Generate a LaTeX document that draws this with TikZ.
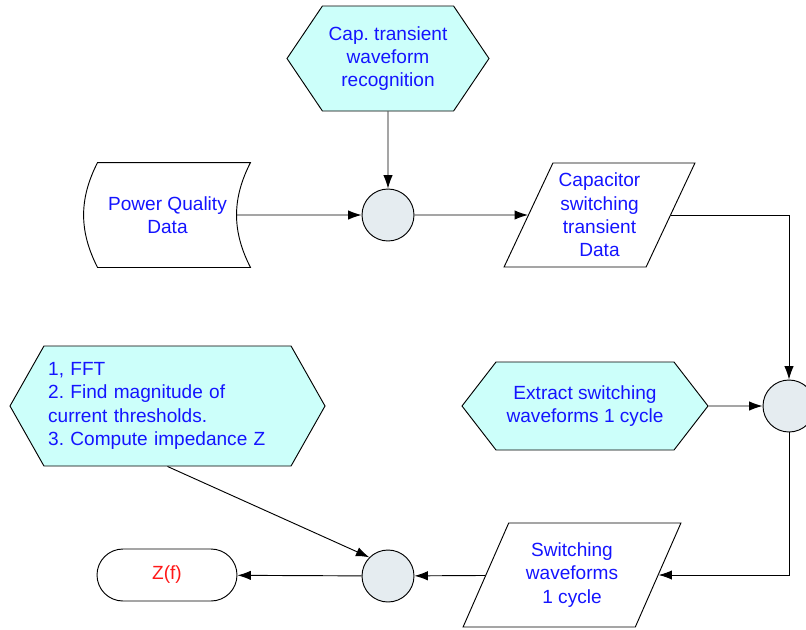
\documentclass[tikz,border=0pt]{standalone}
\usepackage{fontspec}
\setmainfont{Liberation Sans}
\usetikzlibrary{shapes.symbols,shapes.geometric,arrows.meta}
\definecolor{hexcyan}{RGB}{204,255,250}
\definecolor{junctionfill}{RGB}{229,236,240}
\definecolor{txtblue}{RGB}{20,20,255}
\definecolor{txtred}{RGB}{255,25,25}
\frenchspacing
\begin{document}
\begin{tikzpicture}[
	x=0.75pt, y=-0.75pt,
	line width=0.7pt,
	font=\fontsize{14.3}{17.5}\selectfont,
	flow/.style={ -{Latex[length=10pt,width=7pt]} },
	junction/.style={ circle, draw, fill=junctionfill, minimum size=39pt, inner sep=0pt },
	task/.style={ signal, signal to=west and east, draw, fill=hexcyan, text=txtblue, align=center, inner sep=2pt },
	datab/.style={ trapezium, trapezium left angle=63, trapezium right angle=117, trapezium stretches=true, draw, text=txtblue, align=center, inner sep=1pt, minimum height=78pt },
	stored/.style={ rectangle, text=txtblue, align=center, minimum width=123.75pt, minimum height=78pt, inner sep=0pt },
	terminal/.style={ rectangle, rounded corners=19.5pt, draw, text=txtred, minimum width=105pt, minimum height=39pt }
]
\useasboundingbox (0,0) rectangle (806,629);

\node at (388,58.5) (recog) [task, signal pointer angle=112, minimum width=151.5pt, minimum height=78.75pt] {Cap. transient\\waveform\\recognition};
\node at (167.5,215) (pqd) [stored] {Power Quality\\Data};
\node at (388,215) (j1) [junction] {};
\node at (599.5,215) (capdata) [datab, minimum width=143.25pt] {Capacitor\\switching\\transient\\Data};
\node at (585,406) (extract) [task, signal pointer angle=104.6, minimum width=184.5pt, minimum height=66pt] {Extract switching\\waveforms 1 cycle};
\node at (789,406) (j2) [junction] {};
\node at (167.5,406) (fft) [task, signal pointer angle=121, minimum width=236.25pt, minimum height=90pt, align=left, text width=179pt] {1, FFT\\2. Find magnitude of\\current thresholds.\\3. Compute impedance Z};
\node at (572,575) (swdata) [datab, minimum width=163.5pt] {Switching\\waveforms\\1 cycle};
\node at (388,576) (j3) [junction] {};
\node at (167,575) (zf) [terminal] {Z(f)};

\draw ([xshift=9.75pt]pqd.north west) -- (pqd.north east) to[bend right=27] node[coordinate,pos=0.5] (pqdout) {} (pqd.south east) -- ([xshift=9.75pt]pqd.south west) to[bend left=27] ([xshift=9.75pt]pqd.north west) -- cycle;

\draw[flow] (recog) -- (j1);
\draw[flow] (pqdout) -- (j1);
\draw[flow] (j1) -- (capdata);
\draw[flow] (capdata) -| (j2);
\draw[flow] (extract) -- (j2);
\draw[flow] (j2) |- (swdata);
\draw[flow] (swdata) -- (j3);
\draw[flow] (fft.south) -- (j3.north west);
\draw[flow] (j3) -- (zf);

\end{tikzpicture}
\end{document}
